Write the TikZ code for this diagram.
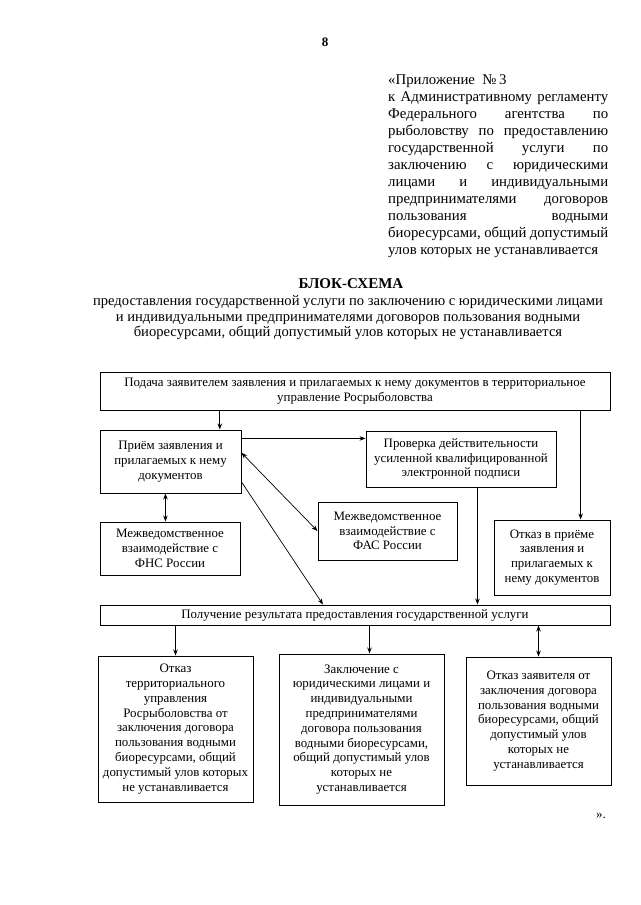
\documentclass[tikz,border=0pt]{standalone}
\usepackage{fontspec}
\setmainfont{Liberation Serif}
\usetikzlibrary{arrows.meta, positioning}

\begin{document}
\begin{tikzpicture}[x=1pt, y=-1pt,
  box/.style={rectangle, draw=black, line width=1pt, align=center, inner sep=2pt, font=\fontsize{12.9}{14.8}\selectfont},
  line/.style={draw, -{Stealth[length=6pt, width=4.5pt]}, line width=0.7pt},
  dline/.style={draw, {Stealth[length=6pt, width=4.5pt]}-{Stealth[length=6pt, width=4.5pt]}, line width=0.7pt}]
  \useasboundingbox (0,0) rectangle (640,905);

  \node (pagenum) at (325,42) {\fontsize{13}{15}\selectfont\bfseries 8};
  \node [anchor=north west, inner sep=0pt, text width=220pt, align=justify, font=\fontsize{14.8}{17}\selectfont] (annex) at (388,74) {«Приложение \ №\,3\\ к Административному регламенту\linebreak Федерального агентства по\linebreak рыболовству по предоставлению\linebreak государственной услуги по\linebreak заключению с юридическими\linebreak лицами и индивидуальными\linebreak предпринимателями договоров\linebreak пользования водными\linebreak биоресурсами, общий допустимый\linebreak улов которых не устанавливается};

  \node [font=\fontsize{15}{17}\selectfont\bfseries] (title) at (351,284) {БЛОК-СХЕМА};
  \node [align=center, font=\fontsize{14.6}{15.5}\selectfont] (subtitle) at (348,318) {предоставления государственной услуги по заключению с юридическими лицами\\ и индивидуальными предпринимателями договоров пользования водными\\ биоресурсами, общий допустимый улов которых не устанавливается};

  \node [box, minimum width=510pt, minimum height=38pt] (submit) at (355,391) {Подача заявителем заявления и прилагаемых к нему документов в территориальное\\ управление Росрыболовства};
  \node [box, minimum width=141pt, minimum height=63pt] (receive) at (170.5,461.5) {Приём заявления и\\ прилагаемых к нему\\ документов};
  \node [box, minimum width=190pt, minimum height=56pt] (check) at (461,459) {Проверка действительности\\ усиленной квалифицированной\\ электронной подписи};
  \node [box, minimum width=140pt, minimum height=53pt] (fns) at (170,548.5) {Межведомственное\\ взаимодействие с\\ ФНС России};
  \node [box, minimum width=139pt, minimum height=58pt] (fas) at (387.5,531) {Межведомственное\\ взаимодействие с\\ ФАС России};
  \node [box, minimum width=116pt, minimum height=75pt] (refuse) at (552,557.5) {Отказ в приёме\\ заявления и\\ прилагаемых к\\ нему документов};
  \node [box, minimum width=510pt, minimum height=20pt] (result) at (355,615) {Получение результата предоставления государственной услуги};
  \node [box, minimum width=155pt, minimum height=146pt] (denial) at (175.5,729) {Отказ\\ территориального\\ управления\\ Росрыболовства от\\ заключения договора\\ пользования водными\\ биоресурсами, общий\\ допустимый улов которых\\ не устанавливается};
  \node [box, minimum width=165pt, minimum height=151pt] (contract) at (361.5,729.5) {Заключение с\\ юридическими лицами и\\ индивидуальными\\ предпринимателями\\ договора пользования\\ водными биоресурсами,\\ общий допустимый улов\\ которых не\\ устанавливается};
  \node [box, minimum width=145pt, minimum height=128pt] (withdraw) at (538.5,721) {Отказ заявителя от\\ заключения договора\\ пользования водными\\ биоресурсами, общий\\ допустимый улов\\ которых не\\ устанавливается};
  \node [font=\fontsize{13}{15}\selectfont] (closequote) at (601,816) {».};

  \path [line] (submit.south -| receive.33) -- (receive.33);
  \path [line] (receive.18) -- (receive.18 -| check.west);
  \path [dline] (receive.7) -- (fas.west);
  \path [line] (receive.-16) -- ([xshift=-32pt]result.north);
  \path [dline] (receive.-99) -- (receive.-99 |- fns.north);
  \path [line] (check.-60) -- (check.-60 |- result.north);
  \path [line] (refuse.53 |- submit.south) -- (refuse.53);

  \path [line] (result.south -| denial.north) -- (denial.north);
  \path [line] (result.south -| contract.84) -- (contract.84);
  \path [dline] (result.south -| withdraw.north) -- (withdraw.north);
\end{tikzpicture}
\end{document}
